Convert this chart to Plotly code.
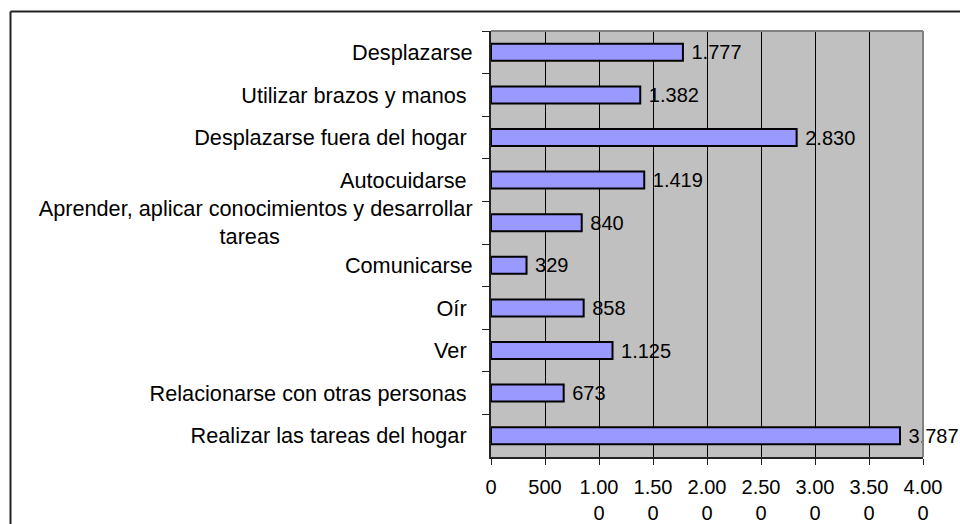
import plotly.graph_objects as go

NB = "\u00a0"
categories = [
    "Desplazarse",
    "Utilizar brazos y manos" + NB,
    "Desplazarse fuera del hogar" + NB,
    "Autocuidarse" + NB,
    "Aprender, aplicar conocimientos y desarrollar<br>tareas" + NB * 32,
    "Comunicarse",
    "Oír" + NB,
    "Ver" + NB,
    "Relacionarse con otras personas" + NB,
    "Realizar las tareas del hogar" + NB,
]
values = [1777, 1382, 2830, 1419, 840, 329, 858, 1125, 673, 3787]
x_tickvals = [0, 500, 1000, 1500, 2000, 2500, 3000, 3500, 4000]
x_ticktext = ["0", "500", "1.00<br>0", "1.50<br>0", "2.00<br>0", "2.50<br>0",
              "3.00<br>0", "3.50<br>0", "4.00<br>0"]

FONT = "Liberation Sans, Arial, sans-serif"

fig = go.Figure(
    go.Bar(
        x=values,
        y=categories,
        orientation="h",
        marker=dict(color="#9999FF", line=dict(color="black", width=2)),
        texttemplate=" %{x:,}",
        textposition="outside",
        constraintext="none",
        cliponaxis=False,
        textfont=dict(family=FONT, size=20, color="black"),
    )
)

# body margin is removed by post_script, so figure coords == page coords
OFF = 0
W, H = 960, 524
L, T = 491 - OFF, 31 - OFF
R = W - (923 - OFF)
B = H - (457 - OFF)
pw, ph = W - L - R, H - T - B

def px_x(p):
    return (p - L) / pw

def px_y(p):
    return (H - B - p) / ph

fx = px_x(10.5 - OFF)
fy = px_y(11.5 - OFF)

fig.update_layout(
    width=W, height=H,
    autosize=False,
    margin=dict(l=L, r=R, t=T, b=B, pad=0, autoexpand=False),
    paper_bgcolor="white",
    plot_bgcolor="#C0C0C0",
    separators=",.",
    bargap=0.6,
    showlegend=False,
    font=dict(family=FONT, size=20, color="black"),
    xaxis=dict(
        range=[0, 4000],
        tickvals=x_tickvals,
        ticktext=x_ticktext,
        showgrid=True, gridcolor="black", gridwidth=1,
        zeroline=False,
        showline=True, linecolor="#222", linewidth=2,
        ticks="outside", ticklen=6, tickcolor="#222", tickwidth=1,
        tickfont=dict(size=20),
        ticklabelstandoff=5,
        automargin=False,
        fixedrange=True,
    ),
    yaxis=dict(
        autorange="reversed",
        showgrid=False,
        zeroline=False,
        showline=True, linecolor="#222", linewidth=2,
        ticks="outside", ticklen=7, tickcolor="#222", tickwidth=1,
        tickson="boundaries",
        tickfont=dict(size=21.7),
        ticklabelstandoff=12,
        automargin=False,
        fixedrange=True,
    ),
    shapes=[
        dict(type="line", xref="paper", yref="paper", x0=0, x1=1, y0=1, y1=1,
             line=dict(color="#808080", width=2), layer="above"),
        dict(type="line", xref="paper", yref="paper", x0=1, x1=1, y0=0, y1=1,
             line=dict(color="#808080", width=2), layer="above"),
        dict(type="line", xref="paper", yref="paper", x0=fx, x1=3, y0=fy, y1=fy,
             line=dict(color="#222", width=2)),
        dict(type="line", xref="paper", yref="paper", x0=fx, x1=fx, y0=-1, y1=fy,
             line=dict(color="#222", width=2)),
    ],
)

fig.write_html(
    "out.html",
    config={"displayModeBar": False},
    post_script="document.body.style.margin='0';"
                "document.documentElement.style.overflow='hidden';"
                "document.body.style.overflow='hidden';",
)
